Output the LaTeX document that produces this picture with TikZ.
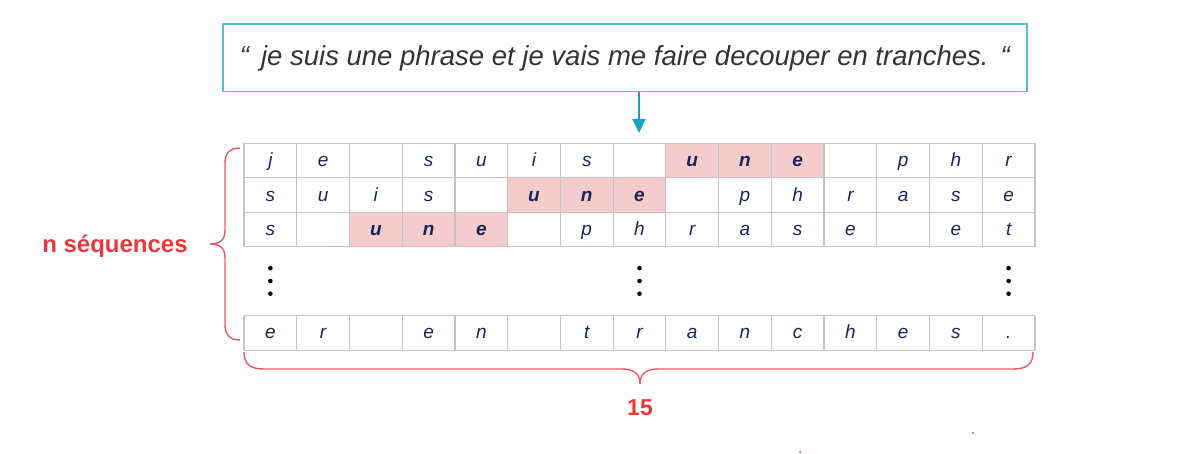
\documentclass[tikz,border=0pt]{standalone}
\usepackage{fontspec}
\setmainfont{Liberation Sans}
\usetikzlibrary{arrows.meta}
\definecolor{boxteal}{HTML}{5BBCCF}
\definecolor{arrteal}{HTML}{19A3BF}
\definecolor{gridgray}{HTML}{C4C4C4}
\definecolor{navy}{HTML}{17255A}
\definecolor{hlpink}{HTML}{F5CCCC}
\definecolor{labred}{HTML}{E8383D}
\definecolor{bracered}{HTML}{E85A64}
\definecolor{quotegray}{HTML}{333333}
\begin{document}
\begin{tikzpicture}[x=1pt,y=-1pt,
  cell/.style={minimum width=52.73pt, minimum height=34.4pt,
    inner sep=0pt, text height=14.5pt, text depth=2.5pt, text=navy,
    font=\fontsize{19}{19}\selectfont\itshape},
  hl/.style={cell, fill=hlpink, font=\fontsize{19}{19}\selectfont\bfseries\itshape},
  gridline/.style={draw=gridgray, line width=1.2pt},
  dotmark/.style={circle, fill=black, inner sep=0pt, minimum size=4.6pt},
  bracestyle/.style={draw=bracered, line width=1.4pt},
  lab/.style={text=labred, font=\fontsize{24}{24}\selectfont\bfseries}]
\useasboundingbox (0,0) rectangle (1202,454);

% sentence box
\node[draw=boxteal, line width=1.5pt, minimum width=804pt, minimum height=67.5pt, inner sep=0pt,
  text=quotegray, font=\fontsize{27.5}{28}\selectfont\itshape] (box) at (624.9,57.9)
  {“\hspace{12pt}je suis une phrase et je vais me faire decouper en tranches.\hspace{12pt}“};

% arrow
\coordinate (tip) at (639,133);
\draw[arrteal, line width=2pt, -{Triangle[length=14pt,width=13pt]}] (box.south -| tip) -- (tip);

% rows
\foreach \ch/\st [count=\i] in {j/cell,e/cell,{}/cell,s/cell,u/cell,i/cell,s/cell,{}/cell,u/hl,n/hl,e/hl,{}/cell,p/cell,h/cell,r/cell}
  \node[\st] (ra-\i) at ({244+(\i-0.5)*52.733},160.7) {\ch};
\foreach \ch/\st [count=\i] in {s/cell,u/cell,i/cell,s/cell,{}/cell,u/hl,n/hl,e/hl,{}/cell,p/cell,h/cell,r/cell,a/cell,s/cell,e/cell}
  \node[\st] (rb-\i) at ({244+(\i-0.5)*52.733},195.1) {\ch};
\foreach \ch/\st [count=\i] in {s/cell,{}/cell,u/hl,n/hl,e/hl,{}/cell,p/cell,h/cell,r/cell,a/cell,s/cell,e/cell,{}/cell,e/cell,t/cell}
  \node[\st] (rc-\i) at ({244+(\i-0.5)*52.733},229.5) {\ch};
\foreach \ch/\st [count=\i] in {e/cell,r/cell,{}/cell,e/cell,n/cell,{}/cell,t/cell,r/cell,a/cell,n/cell,c/cell,h/cell,e/cell,s/cell,./cell}
  \node[\st] (rd-\i) at ({244+(\i-0.5)*52.733},332.9) {\ch};

% grid lines
\foreach \gy in {143.5,177.9,212.3,246.7,315.7,350.1}
  \draw[gridline] (244,\gy) -- (1035,\gy);
\foreach \k in {0,...,15}{
  \draw[gridline] ({244+\k*52.733},143.5) -- ({244+\k*52.733},246.7);
  \draw[gridline] ({244+\k*52.733},315.7) -- ({244+\k*52.733},350.1);
}

% vertical ellipses
\foreach \cx [count=\k] in {270.4,639.5,1008.6}{
  \node[dotmark] (dta-\k) at (\cx,268.2) {};
  \node[dotmark] (dtb-\k) at (\cx,281) {};
  \node[dotmark] (dtc-\k) at (\cx,293.7) {};
}

% left brace
\draw[bracestyle] (240,148) .. controls (230,148) and (225,153) .. (225,163) -- (225,230)
  .. controls (225,240) and (220,244) .. (210,244)
  .. controls (220,244) and (225,248) .. (225,258) -- (225,325)
  .. controls (225,335) and (230,340) .. (240,340);
\node[lab, anchor=center] (nseq) at (115,246) {n séquences};

% bottom brace
\draw[bracestyle] (244,352) .. controls (244,364) and (250,369) .. (264,369) -- (622,369)
  .. controls (634,369) and (640,374) .. (640,384)
  .. controls (640,374) and (646,369) .. (658,369) -- (1013,369)
  .. controls (1027,369) and (1033,364) .. (1033,352);
\node[lab, font=\fontsize{23}{23}\selectfont\bfseries] (cnt) at (640,408) {15};

% stray marks
\fill[labred] (973,433) circle (1pt);
\fill[labred] (800,452) circle (1pt);
\end{tikzpicture}
\end{document}
